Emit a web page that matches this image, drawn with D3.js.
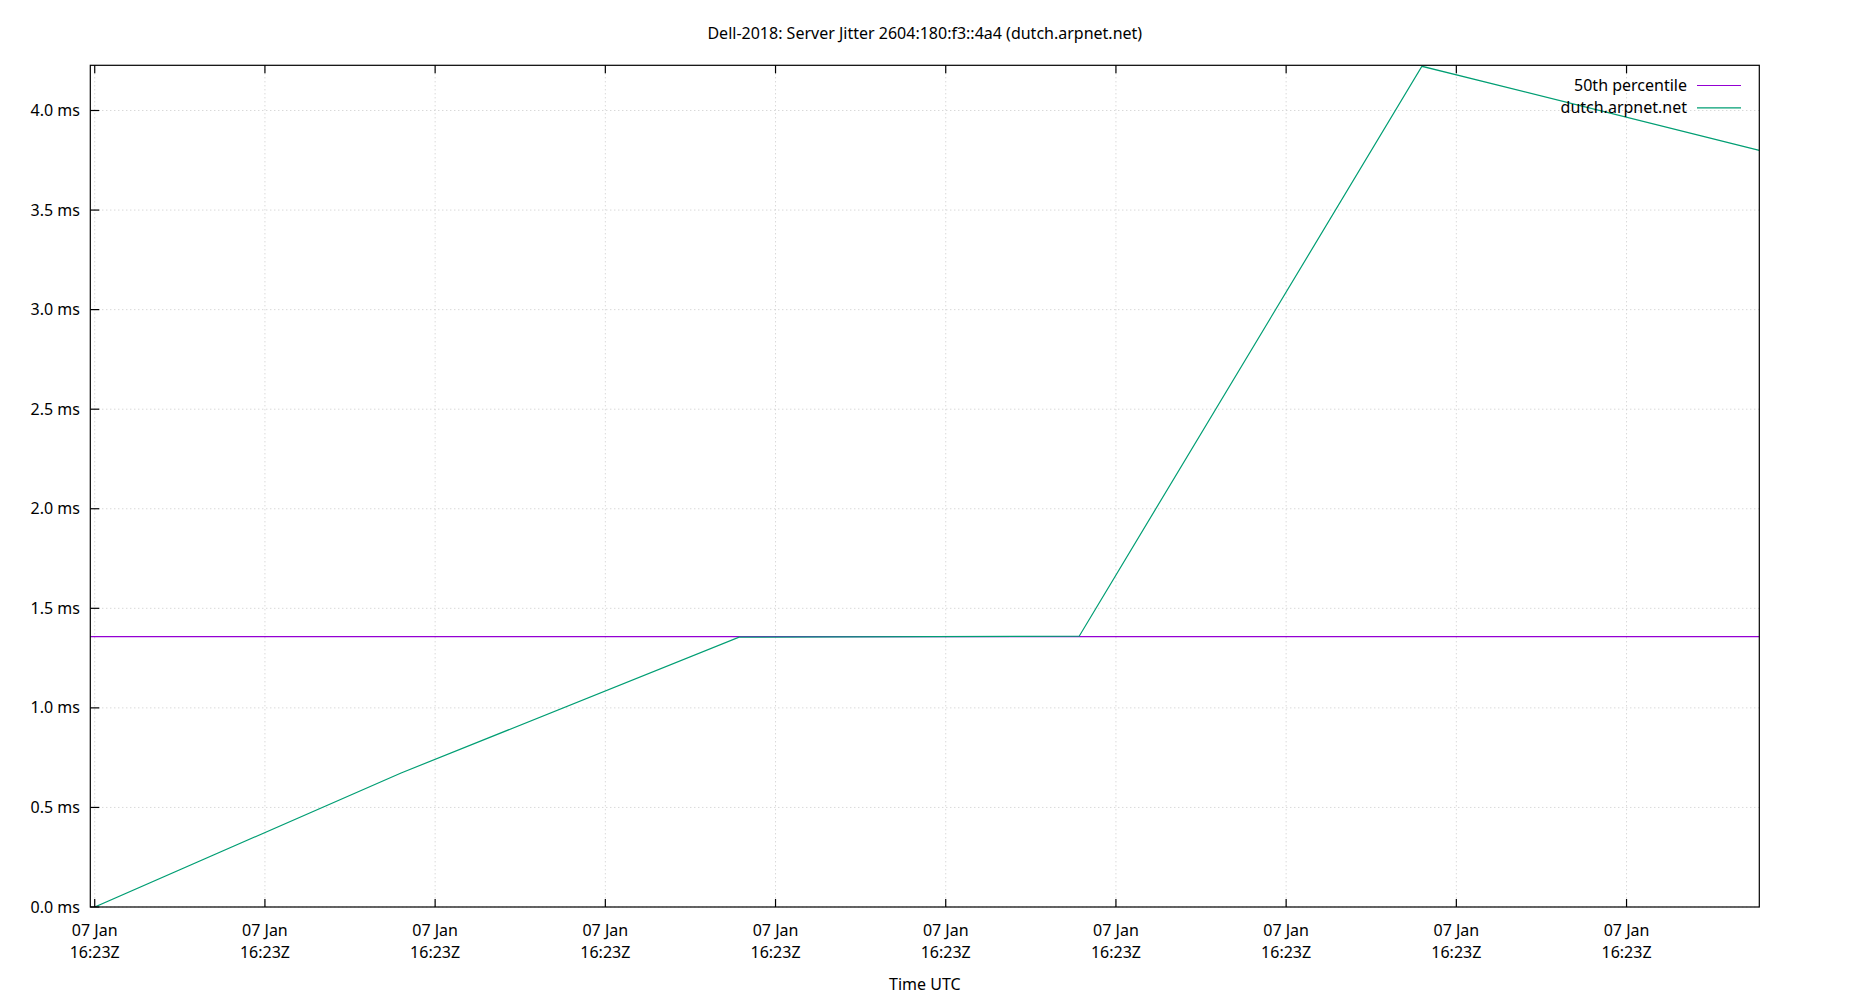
<!DOCTYPE html>
<html><head><meta charset="utf-8">
<script src="https://cdn.jsdelivr.net/npm/d3@7"></script>
<style>
body{margin:0;background:#fff}
text{font-family:"Noto Sans",sans-serif;font-size:16px;fill:#000}
</style>
</head><body><svg id="c" width="1850" height="1000"></svg>
<script>
const title = "Dell-2018: Server Jitter 2604:180:f3::4a4 (dutch.arpnet.net)";
const xLabel = "Time UTC";
const seriesNames = ["50th percentile", "dutch.arpnet.net"];
const seriesColors = ["#9400d3", "#009e73"];
// seconds after 2020-01-07 16:23:05Z
const timesSec = [0, 9.0, 18.93, 28.92, 38.99, 48.9];
const jitterMs = [0, 0.673, 1.355, 1.36, 4.222, 3.80];
const medianMs = 1.3575;
const yTicks = [0, 0.5, 1.0, 1.5, 2.0, 2.5, 3.0, 3.5, 4.0];
const yMax = 4.227;
const xStartSec = -0.13, xEndSec = 48.9;

const base = Date.UTC(2020, 0, 7, 16, 23, 5);
const toDate = s => new Date(base + s * 1000);

const L = 90.3, R = 1759.3, T = 65.3, B = 907;
const svg = d3.select("#c");
const x = d3.scaleUtc().domain([toDate(xStartSec), toDate(xEndSec)]).range([L, R]);
const y = d3.scaleLinear().domain([0, yMax]).range([B, T]);
const xTicks = x.ticks(d3.utcSecond.every(5));

// grid
const grid = svg.append("g").attr("stroke", "#c8c8c8").attr("stroke-width", 1).attr("stroke-dasharray", "1,3");
xTicks.forEach(t => grid.append("line").attr("x1", x(t)).attr("x2", x(t)).attr("y1", T).attr("y2", B));
yTicks.forEach(v => grid.append("line").attr("x1", L).attr("x2", R).attr("y1", y(v)).attr("y2", y(v)));

// clip
svg.append("clipPath").attr("id", "pc").append("rect").attr("x", L).attr("y", T).attr("width", R - L).attr("height", B - T);
const plot = svg.append("g").attr("clip-path", "url(#pc)");

plot.append("line").attr("x1", L).attr("x2", R).attr("y1", y(medianMs)).attr("y2", y(medianMs))
  .attr("stroke", seriesColors[0]).attr("stroke-width", 1.2);

const data = timesSec.map((s, i) => ({t: toDate(s), v: jitterMs[i]}));
plot.append("path").datum(data)
  .attr("d", d3.line().x(d => x(d.t)).y(d => y(d.v)))
  .attr("fill", "none").attr("stroke", seriesColors[1]).attr("stroke-width", 1.2);

// frame
svg.append("rect").attr("x", L).attr("y", T).attr("width", R - L).attr("height", B - T)
  .attr("fill", "none").attr("stroke", "#000").attr("stroke-width", 1.2);

// ticks
const tk = svg.append("g").attr("stroke", "#000").attr("stroke-width", 1.2);
xTicks.forEach(t => {
  tk.append("line").attr("x1", x(t)).attr("x2", x(t)).attr("y1", B).attr("y2", B - 8);
  tk.append("line").attr("x1", x(t)).attr("x2", x(t)).attr("y1", T).attr("y2", T + 8);
});
yTicks.forEach(v => tk.append("line").attr("x1", L).attr("x2", L + 9).attr("y1", y(v)).attr("y2", y(v)));

// labels
const fmtD = d3.utcFormat("%d %b"), fmtT = d3.utcFormat("%H:%MZ");
xTicks.forEach(t => {
  const tx = svg.append("text").attr("text-anchor", "middle").attr("x", x(t)).attr("y", 936);
  tx.append("tspan").attr("x", x(t)).text(fmtD(t));
  tx.append("tspan").attr("x", x(t)).attr("dy", 22).text(fmtT(t));
});
yTicks.forEach(v => svg.append("text").attr("text-anchor", "end").attr("x", 80).attr("y", y(v) + 5.5)
  .text(d3.format(".1f")(v) + " ms"));

svg.append("text").attr("text-anchor", "middle").attr("x", (L + R) / 2).attr("y", 39).text(title);
svg.append("text").attr("text-anchor", "middle").attr("x", (L + R) / 2).attr("y", 990).text(xLabel);

// legend
seriesNames.forEach((n, i) => {
  const ly = 85.5 + i * 22.3;
  svg.append("text").attr("text-anchor", "end").attr("x", 1687).attr("y", ly + 5.5).text(n);
  svg.append("line").attr("x1", 1697).attr("x2", 1741).attr("y1", ly).attr("y2", ly)
    .attr("stroke", seriesColors[i]).attr("stroke-width", 1.2);
});
</script></body></html>
